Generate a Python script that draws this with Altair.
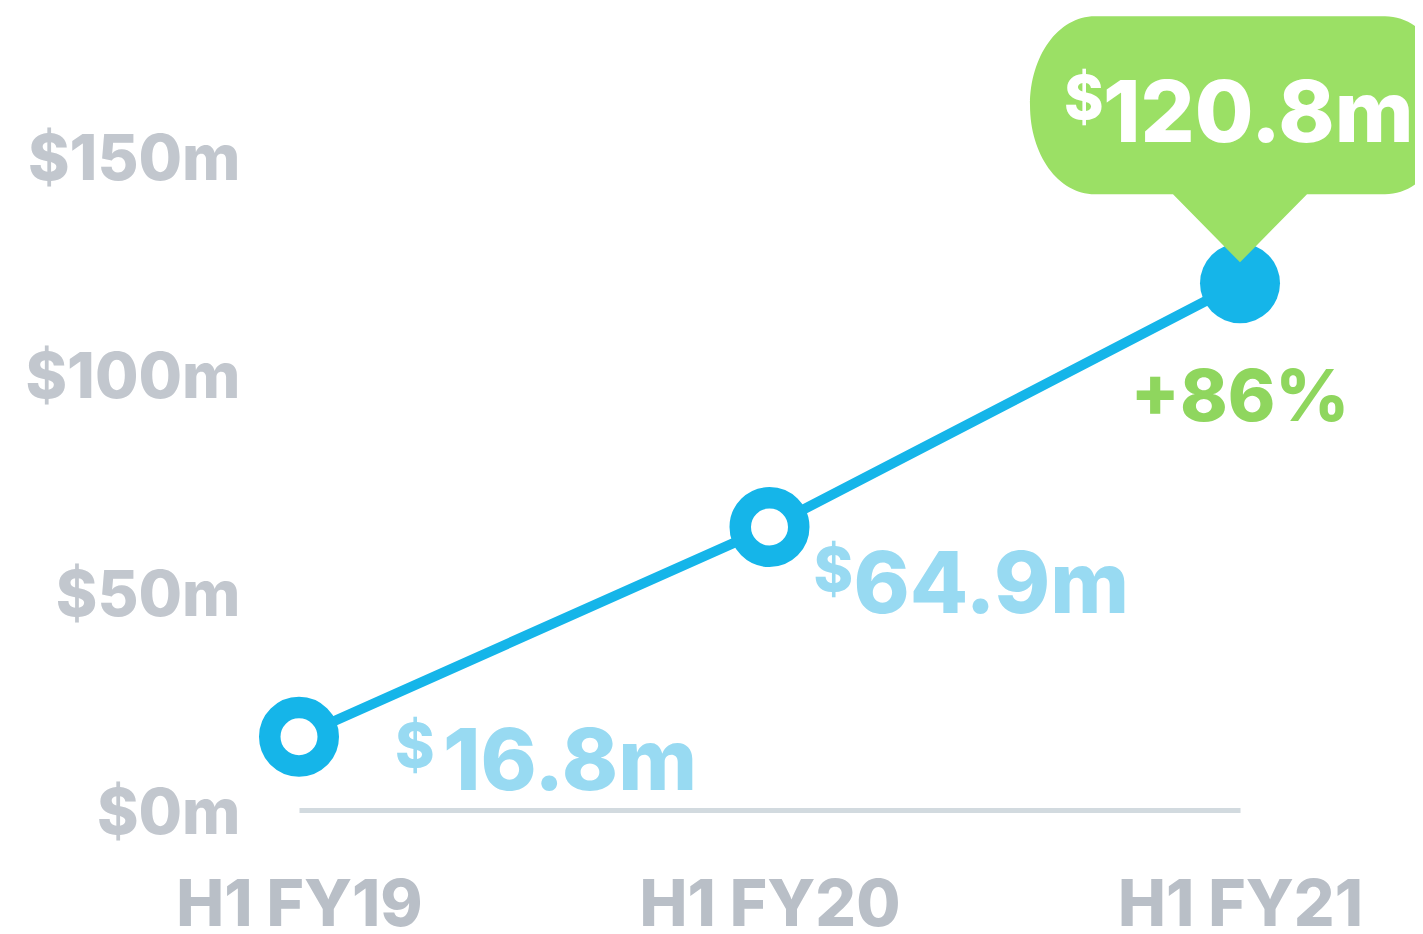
import altair as alt
import pandas as pd

periods = ["H1 FY19", "H1 FY20", "H1 FY21"]
values = [16.8, 64.9, 120.8]
value_labels = ["16.8m", "64.9m", "120.8m"]
growth_label = "+86%"
y_ticks = [0, 50, 100, 150]

BLUE = "#15b5e9"
LIGHT_BLUE = "#98daf2"
GREEN = "#9be065"
GREEN_TEXT = "#8fd65e"
GRAY_Y = "#c2c7ce"
GRAY_X = "#b9bfc7"
BASE = "#d2dadf"
FONT = "Inter"

df = pd.DataFrame({"period": periods, "value": values, "label": value_labels})

x_enc = alt.X(
    "period:N",
    sort=periods,
    scale=alt.Scale(type="point", padding=0),
    axis=alt.Axis(
        title=None,
        ticks=False,
        domain=True,
        domainColor=BASE,
        domainWidth=5,
        labelFont=FONT,
        labelFontWeight=800,
        labelFontSize=64,
        labelColor=GRAY_X,
        labelPadding=64,
        labelAngle=0,
        labelLimit=0,
    ),
)
y_enc = alt.Y(
    "value:Q",
    scale=alt.Scale(domain=[0, 150], nice=False, zero=True),
    axis=alt.Axis(
        title=None,
        values=y_ticks,
        ticks=False,
        domain=False,
        grid=False,
        labelExpr="'$' + datum.value + 'm'",
        labelFont=FONT,
        labelFontWeight=800,
        labelFontSize=63,
        labelColor=GRAY_Y,
        labelPadding=59,
        labelBaseline="middle",
        labelOffset=4,
        labelLimit=0,
    ),
)

base = alt.Chart(df).encode(x=x_enc, y=y_enc)

line = base.mark_line(color=BLUE, strokeWidth=10)

hollow = base.transform_filter(alt.datum.period != "H1 FY21").mark_point(
    shape="circle", size=3422, fill="white", fillOpacity=1, stroke=BLUE,
    strokeWidth=21.5, opacity=1,
)
solid = base.transform_filter(alt.datum.period == "H1 FY21").mark_point(
    shape="circle", size=6400, filled=True, color=BLUE, opacity=1,
)

bubble_path = (
    "M -1.45 -2.67 H 1.45 "
    "C 1.82 -2.67 2.1 -2.27 2.1 -1.78 "
    "C 2.1 -1.29 1.82 -0.89 1.45 -0.89 "
    "H 0.67 L 0 -0.21 L -0.67 -0.89 H -1.45 "
    "C -1.82 -0.89 -2.1 -1.29 -2.1 -1.78 "
    "C -2.1 -2.27 -1.82 -2.67 -1.45 -2.67 Z"
)
bubble = base.transform_filter(alt.datum.period == "H1 FY21").mark_point(
    shape=bubble_path, size=40000, filled=True, color=GREEN, opacity=1,
    strokeWidth=0,
)


def value_text(period, dx, dy, color, sdx, sdy):
    sub = base.transform_filter(alt.datum.period == period)
    num = sub.mark_text(
        align="left", baseline="alphabetic", dx=dx, dy=dy, font=FONT,
        fontWeight=800, fontSize=85, color=color,
    ).encode(text="label:N")
    cur = sub.mark_text(
        align="left", baseline="alphabetic", dx=sdx, dy=sdy, font=FONT,
        fontWeight=800, fontSize=60, color=color,
    ).encode(text=alt.value("$"))
    return num + cur


t1 = value_text("H1 FY19", 144, 53, LIGHT_BLUE, 96, 30)
t2 = value_text("H1 FY20", 84, 86, LIGHT_BLUE, 44, 64)
t3 = value_text("H1 FY21", -137, -141, "white", -176, -164)

growth = base.transform_filter(alt.datum.period == "H1 FY21").mark_text(
    align="center", baseline="alphabetic", dy=138, font=FONT, fontWeight=800,
    fontSize=72, color=GREEN_TEXT,
).encode(text=alt.value(growth_label))

chart = alt.layer(line, hollow, solid, bubble, t1, t2, t3, growth).properties(
    width=941,
    height=654,
    autosize=alt.AutoSizeParams(type="none"),
    padding={"left": 291, "top": 148, "right": 175, "bottom": 126},
).configure_view(stroke=None)

chart.save("out.html", embed_options={"renderer": "svg", "actions": False})
